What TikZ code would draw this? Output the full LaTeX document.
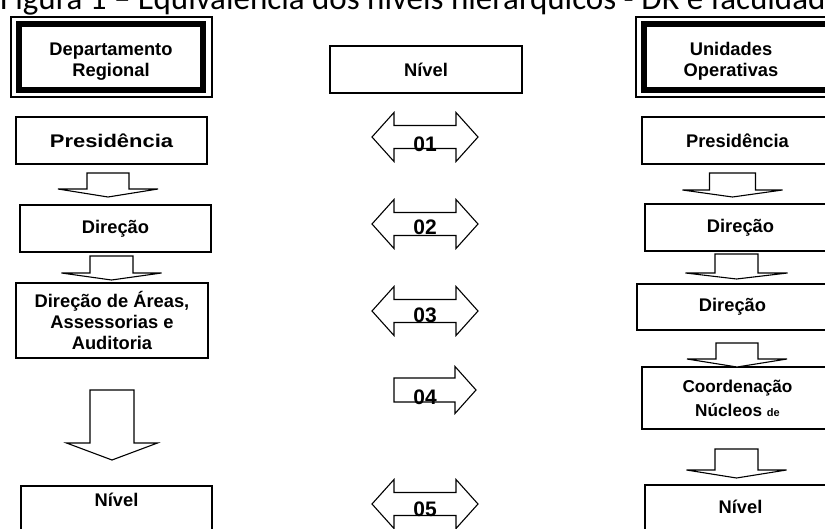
\documentclass[tikz,border=0pt]{standalone}
\usepackage{fontspec}
\setmainfont{Liberation Sans}
\newfontfamily\captionfont{Carlito}
\newfontfamily\widefont[FakeStretch=1.2, BoldFont={Liberation Sans Bold}]{Liberation Sans}
\usetikzlibrary{positioning, calc}
\newcommand{\boxfont}{\fontsize{18.3}{21}\selectfont\bfseries}
\newcommand{\numfont}{\fontsize{21}{24}\selectfont\bfseries}
% down block arrow: top point, tip point, head length, stem half width, head half width
\newcommand{\blockdown}[5]{
    \draw[blockarrow] let \p1=(#1), \p2=(#2) in
        (\x1-#4pt,\y1) -- (\x1+#4pt,\y1) -- (\x1+#4pt,\y2+#3pt) -- (\x1+#5pt,\y2+#3pt)
        -- (\x1,\y2) -- (\x1-#5pt,\y2+#3pt) -- (\x1-#4pt,\y2+#3pt) -- cycle;
}
% double block arrow round a centre point
\newcommand{\blockboth}[1]{
    \draw[blockarrow] let \p1=(#1) in
        (\x1-53pt,\y1) -- (\x1-31pt,\y1+24.5pt) -- (\x1-31pt,\y1+11.5pt) -- (\x1+31pt,\y1+11.5pt)
        -- (\x1+31pt,\y1+24.5pt) -- (\x1+53pt,\y1) -- (\x1+31pt,\y1-24.5pt) -- (\x1+31pt,\y1-11.5pt)
        -- (\x1-31pt,\y1-11.5pt) -- (\x1-31pt,\y1-24.5pt) -- cycle;
}
% single block arrow to the right round a centre point
\newcommand{\blockright}[1]{
    \draw[blockarrow] let \p1=(#1) in
        (\x1-31pt,\y1+12pt) -- (\x1+30pt,\y1+12pt) -- (\x1+30pt,\y1+23.5pt) -- (\x1+51pt,\y1)
        -- (\x1+30pt,\y1-23.5pt) -- (\x1+30pt,\y1-12pt) -- (\x1-31pt,\y1-12pt) -- cycle;
}

\begin{document}
\begin{tikzpicture}[x=1pt, y=-1pt,
    box/.style={draw, line width=1.2pt, minimum width=191pt, minimum height=47pt, inner sep=2pt, outer sep=0pt, align=center, font=\boxfont, anchor=north west},
    hdrbox/.style={draw, line width=5.5pt, minimum width=184pt, minimum height=66pt, outer sep=0pt, anchor=north west},
    hdrframe/.style={draw, line width=1.2pt},
    boxtext/.style={font=\boxfont, align=center},
    blockarrow/.style={draw, line width=1.1pt, fill=white},
    numlabel/.style={font=\numfont, inner sep=0pt},
    captiontext/.style={font=\captionfont\fontsize{33}{36}\selectfont, anchor=base west, inner sep=0pt}
]

\useasboundingbox (0,0) rectangle (825,528);
\clip (0,0) rectangle (825,528);

% Caption, cut by the top edge
\node[captiontext] (caption) at (0,9.5) {Figura 1 – Equivalência dos níveis hierárquicos - DR e faculdade};

% Header frames
\node[hdrbox] (hdrL) at (19,24) {};
\draw[hdrframe] ([shift={(-8pt,7pt)}]hdrL.north west) rectangle ([shift={(9pt,-7pt)}]hdrL.south east);
\node[boxtext] (hdrLtext) at ([yshift=-4.5pt]hdrL.center) {Departamento\\Regional};

\node[hdrbox] (hdrR) at (644,24) {};
\draw[hdrframe] ([shift={(-8pt,7pt)}]hdrR.north west) rectangle ([shift={(9pt,-7pt)}]hdrR.south east);
\node[boxtext] (hdrRtext) at ([xshift=-5pt,yshift=-4pt]hdrR.center) {Unidades\\Operativas};

\node[box, minimum width=192pt] (hdrC) at (330,46) {Nível};

% Departamento Regional column
\node[box, font=\widefont\fontsize{18.3}{21}\selectfont\bfseries] (presL) at (16,117) {Presidência};
\node[box] (dirL) at (20,205) {Direção};
\node[box, minimum width=192pt, minimum height=75pt] (areasL) at (16,283) {Direção de Áreas,\\Assessorias e\\Auditoria};
\node[box, minimum height=70pt] (nivL) at (21,486) {};
\node[boxtext] (nivLtext) at ([yshift=-14pt]nivL.north) {Nível};

\blockdown{[xshift=-3.5pt,yshift=-9pt]presL.south}{[yshift=8pt]dirL.north}{8}{21}{50}
\blockdown{[xshift=-4pt,yshift=-4pt]dirL.south}{[yshift=3pt]areasL.north}{7}{21.5}{50}
\blockdown{[yshift=-32pt]areasL.south}{[yshift=26pt]nivL.north}{17}{22}{45.5}

% Unidades Operativas column
\node[box] (presR) at (642,117) {Presidência};
\node[box] (dirR) at (645,204) {Direção};
\node[box, minimum height=46pt] (dirUR) at (637,284) {Direção};
\node[box, minimum height=62pt, font=\fontsize{17.2}{24}\selectfont\bfseries] (coordR) at (642,367) {Coordenação\\Núcleos {\fontsize{11}{13}\selectfont de}};
\node[box, minimum height=70pt] (nivR) at (645,485) {};
\node[boxtext] (nivRtext) at ([yshift=-22pt]nivR.north) {Nível};

\blockdown{[xshift=-5pt,yshift=-9pt]presR.south}{[yshift=7pt]dirR.north}{7}{23}{50}
\blockdown{[xshift=-4pt,yshift=-3pt]dirR.south}{[yshift=5pt]dirUR.north}{6}{21.5}{51}
\blockdown{[xshift=4.5pt,yshift=-13pt]dirUR.south}{coordR.north}{8}{21}{50}
\blockdown{[xshift=-1pt,yshift=-20pt]coordR.south}{[yshift=7pt]nivR.north}{8}{21.5}{50}

% Level equivalence arrows
\coordinate (lv1) at (425,137);
\coordinate (lv2) at (425,224);
\coordinate (lv3) at (425,311);
\coordinate (lv4) at (425,390);
\coordinate (lv5) at (425,504);
\blockboth{lv1}
\blockboth{lv2}
\blockboth{lv3}
\blockright{lv4}
\blockboth{lv5}
\node[numlabel] (n01) at ([yshift=-7pt]lv1) {01};
\node[numlabel] (n02) at ([yshift=-3.5pt]lv2) {02};
\node[numlabel] (n03) at ([yshift=-4pt]lv3) {03};
\node[numlabel] (n04) at ([yshift=-7.5pt]lv4) {04};
\node[numlabel] (n05) at ([yshift=-5.5pt]lv5) {05};

\end{tikzpicture}
\end{document}
